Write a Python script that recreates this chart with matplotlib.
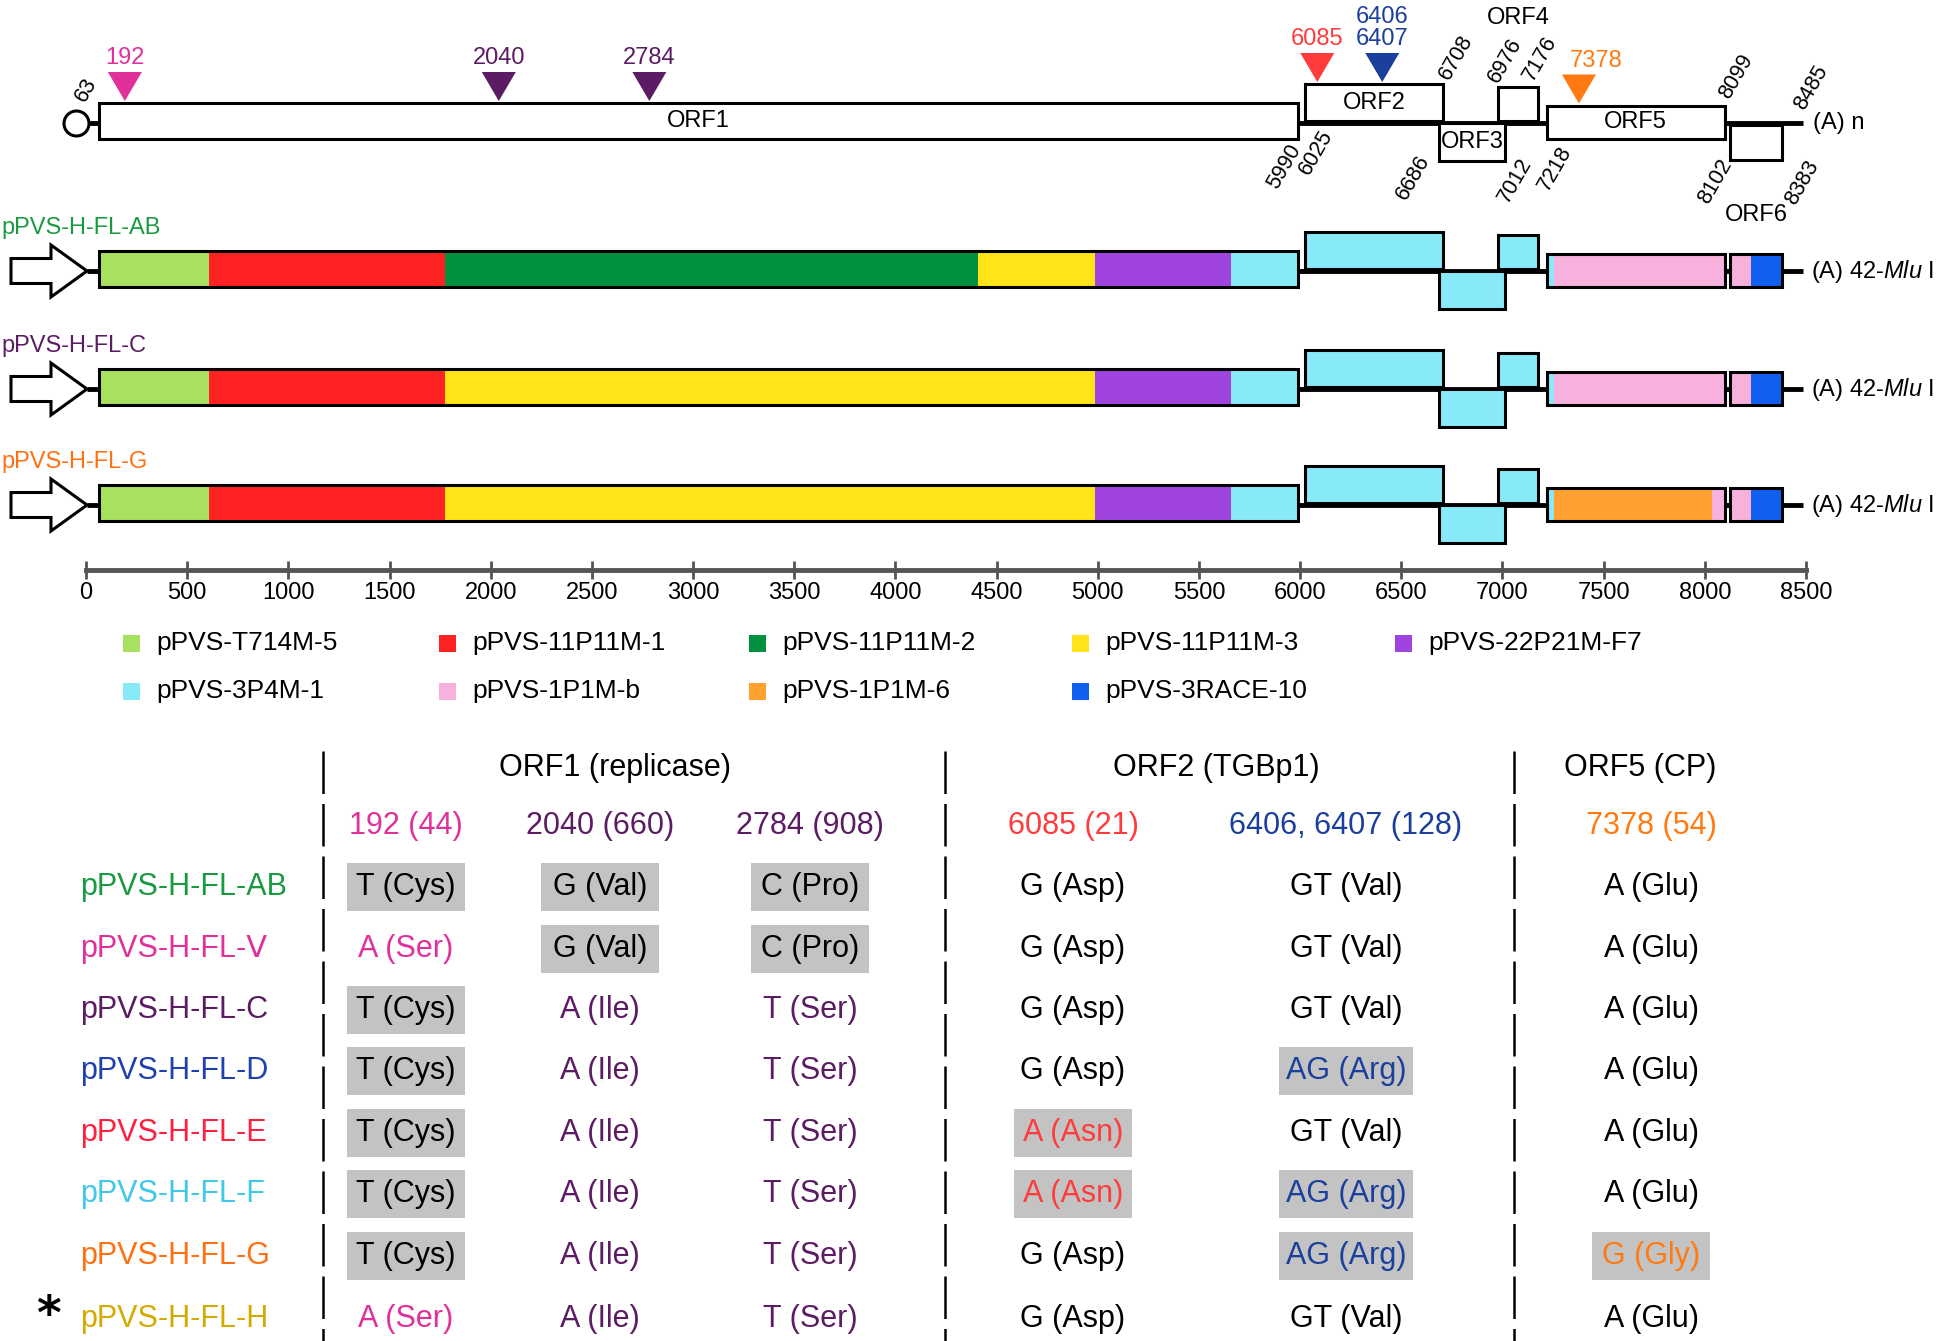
import matplotlib
matplotlib.use("Agg")

import matplotlib.pyplot as plt
from matplotlib.patches import Rectangle, Polygon

plt.rcParams['font.family'] = ['Liberation Sans', 'DejaVu Sans', 'Noto Sans CJK JP']
plt.rcParams['mathtext.fontset'] = 'custom'
plt.rcParams['mathtext.rm'] = 'Liberation Sans'
plt.rcParams['mathtext.it'] = 'Liberation Sans:italic'

# ---------------- genome map data (nt) ----------------
orf_names = ['ORF1', 'ORF2', 'ORF3', 'ORF4', 'ORF5', 'ORF6']
orf_start = [63, 6025, 6686, 6976, 7218, 8102]
orf_end = [5990, 6708, 7012, 7176, 8099, 8383]
genome_end = 8485

site_pos = [192, 2040, 2784, 6085, 6406, 7378]
site_text = ['192', '2040', '2784', '6085', '6406\n6407', '7378']
site_color = ['#e0309a', '#5c1c64', '#5c1c64', '#ff3b3b', '#1a3f9c', '#ff7a12']

nums_above = [63, 6708, 6976, 7176, 8099, 8485]
nums_below = [5990, 6025, 6686, 7012, 7218, 8102, 8383]

clone_names = ['pPVS-T714M-5', 'pPVS-11P11M-1', 'pPVS-11P11M-2', 'pPVS-11P11M-3',
               'pPVS-22P21M-F7', 'pPVS-3P4M-1', 'pPVS-1P1M-b', 'pPVS-1P1M-6',
               'pPVS-3RACE-10']
clone_colors = ['#a8e060', '#ff2222', '#009040', '#ffe41a', '#a044e0',
                '#88eaf8', '#f8b0dc', '#ffa030', '#1060f0']

construct_names = ['pPVS-H-FL-AB', 'pPVS-H-FL-C', 'pPVS-H-FL-G']
construct_colors = ['#1a9a40', '#5c1c64', '#ff7010']
# (start, end, clone index)
construct_pieces = [
    [(63, 610, 0), (610, 1776, 1), (1776, 4410, 2), (4410, 4985, 3), (4985, 5660, 4),
     (5660, 5990, 5), (6025, 6708, 5), (6686, 7012, 5), (6976, 7176, 5),
     (7218, 7253, 5), (7253, 8099, 6), (8102, 8230, 6), (8230, 8383, 8)],
    [(63, 610, 0), (610, 1776, 1), (1776, 4985, 3), (4985, 5660, 4),
     (5660, 5990, 5), (6025, 6708, 5), (6686, 7012, 5), (6976, 7176, 5),
     (7218, 7253, 5), (7253, 8099, 6), (8102, 8230, 6), (8230, 8383, 8)],
    [(63, 610, 0), (610, 1776, 1), (1776, 4985, 3), (4985, 5660, 4),
     (5660, 5990, 5), (6025, 6708, 5), (6686, 7012, 5), (6976, 7176, 5),
     (7218, 7253, 5), (7253, 8035, 7), (8035, 8099, 6), (8102, 8230, 6), (8230, 8383, 8)],
]
scale_ticks = list(range(0, 8501, 500))

# ---------------- table data ----------------
orf_headers = ['ORF1 (replicase)', 'ORF2 (TGBp1)', 'ORF5 (CP)']
site_headers = ['192 (44)', '2040 (660)', '2784 (908)', '6085 (21)', '6406, 6407 (128)', '7378 (54)']
strains = ['pPVS-H-FL-AB', 'pPVS-H-FL-Ⅴ', 'pPVS-H-FL-C', 'pPVS-H-FL-D',
           'pPVS-H-FL-E', 'pPVS-H-FL-F', 'pPVS-H-FL-G', 'pPVS-H-FL-H']
strain_colors = ['#1a9a40', '#e0309a', '#5c1c64', '#2040b0',
                 '#ff2040', '#40c8e8', '#ff7010', '#d4aa00']
cells = [
    ['T (Cys)', 'G (Val)', 'C (Pro)', 'G (Asp)', 'GT (Val)', 'A (Glu)'],
    ['A (Ser)', 'G (Val)', 'C (Pro)', 'G (Asp)', 'GT (Val)', 'A (Glu)'],
    ['T (Cys)', 'A (Ile)', 'T (Ser)', 'G (Asp)', 'GT (Val)', 'A (Glu)'],
    ['T (Cys)', 'A (Ile)', 'T (Ser)', 'G (Asp)', 'AG (Arg)', 'A (Glu)'],
    ['T (Cys)', 'A (Ile)', 'T (Ser)', 'A (Asn)', 'GT (Val)', 'A (Glu)'],
    ['T (Cys)', 'A (Ile)', 'T (Ser)', 'A (Asn)', 'AG (Arg)', 'A (Glu)'],
    ['T (Cys)', 'A (Ile)', 'T (Ser)', 'G (Asp)', 'AG (Arg)', 'G (Gly)'],
    ['A (Ser)', 'A (Ile)', 'T (Ser)', 'G (Asp)', 'GT (Val)', 'A (Glu)'],
]
shaded = [
    [1, 1, 1, 0, 0, 0],
    [0, 1, 1, 0, 0, 0],
    [1, 0, 0, 0, 0, 0],
    [1, 0, 0, 0, 1, 0],
    [1, 0, 0, 1, 0, 0],
    [1, 0, 0, 1, 1, 0],
    [1, 0, 0, 0, 1, 1],
    [0, 0, 0, 0, 0, 0],
]

# ---------------- layout (pixels) ----------------
W, H = 1946, 1341
PX0, PX_PER_BP = 86, 0.20235
MAP_Y = 123
ROW_Y = [271, 389, 505]
SCALE_Y = 570
ORF_BAND = [(-20, 16), (-39, -2), (0, 38), (-36, -2), (-17.5, 16), (2, 37)]
ROW_BAND = [(-20, 16), (-39, -2), (0, 38), (-36, -2), (-17.5, 16), (-17.5, 16)]
ORF_GAP = [0, 0, 0, 0, 0, 5]   # small visual gap before ORF6 box, px
NUM_NUDGE = {63: (-13, -33), 6708: (13, -66), 6976: (7, -62), 7176: (2, -64),
             8099: (11, -46), 8485: (8, -35),
             5990: (-14, 44), 6025: (11, 29), 6686: (-26, 55), 7012: (10, 57),
             7218: (8, 46), 8102: (-10, 59), 8383: (20, 60)}
COL_X = [406, 600, 810, 1073, 1346, 1651]
BOX_W = [118, 118, 118, 118, 134, 118]
TAB_ROW_Y = [887, 949, 1010, 1071, 1133, 1194, 1256, 1319]
DASH_X = [323, 945, 1514]
LEG_X = [123, 439, 749, 1072, 1395]
LEG_Y = [643, 691]


def bp(px):
    return px / PX_PER_BP


def bp_at(px):
    return (px - PX0) / PX_PER_BP


fig = plt.figure(figsize=(W / 100, H / 100), dpi=100)
ax = fig.add_axes([0, 0, 1, 1])
ax.set_xlim(bp_at(0), bp_at(W))
ax.set_ylim(H, 0)
ax.patch.set_visible(False)
for s in ['top', 'left', 'right']:
    ax.spines[s].set_visible(False)
ax.set_yticks([])

# scale bar as the real x axis
ax.spines['bottom'].set_position(('data', SCALE_Y))
ax.spines['bottom'].set_bounds(0, 8500)
ax.spines['bottom'].set_linewidth(3.5)
ax.spines['bottom'].set_color('#555555')
ax.set_xticks(scale_ticks)
ax.tick_params(axis='x', direction='inout', length=13, width=2, colors='#555555',
               labelcolor='black', labelsize=17, pad=2)

# ---- genome map ----
ax.plot([bp_at(76), genome_end], [MAP_Y, MAP_Y], color='k', lw=3.5,
        solid_capstyle='butt', zorder=1)
ax.plot(bp_at(76), MAP_Y, 'o', ms=18, mfc='white', mec='k', mew=2.2, zorder=3)
for i, name in enumerate(orf_names):
    t, b = ORF_BAND[i]
    x0 = orf_start[i] + bp(ORF_GAP[i])
    ax.add_patch(Rectangle((x0, MAP_Y + t), orf_end[i] - x0, b - t,
                           fc='white', ec='k', lw=2.2, zorder=2))
    xc = (x0 + orf_end[i]) / 2
    if name == 'ORF4':
        yc = MAP_Y - 105
    elif name == 'ORF6':
        yc = MAP_Y + 92
    else:
        yc = MAP_Y + (t + b) / 2
    ax.text(xc, yc, name, ha='center', va='center', fontsize=17, zorder=4)

for p, txt, c in zip(site_pos, site_text, site_color):
    k = [j for j in range(6) if orf_start[j] <= p <= orf_end[j]][0]
    tip = MAP_Y + ORF_BAND[k][0] - 2
    top = tip - 29
    half = bp(17)
    ax.add_patch(Polygon([(p - half, top), (p + half, top), (p, tip)], closed=True,
                         fc=c, ec='none', zorder=3))
    dx = bp(17) if p == 7378 else 0
    ax.text(p + dx, top - 3, txt, ha='center', va='bottom', color=c, fontsize=17,
            linespacing=1.0)

for n in nums_above + nums_below:
    dx, dy = NUM_NUDGE[n]
    ax.text(n + bp(dx), MAP_Y + dy, str(n), rotation=60, rotation_mode='anchor',
            ha='center', va='center', fontsize=15.5)

ax.text(genome_end + bp(10), MAP_Y, '(A) n', ha='left', va='center', fontsize=17)

# ---- constructs ----
for r, y0 in enumerate(ROW_Y):
    ax.text(bp_at(1), y0 - 43, construct_names[r], ha='left', va='center',
            color=construct_colors[r], fontsize=17)
    ax.add_patch(Polygon([(bp_at(11), y0 - 12.5), (bp_at(51), y0 - 12.5), (bp_at(51), y0 - 26),
                          (bp_at(87), y0), (bp_at(51), y0 + 26), (bp_at(51), y0 + 12.5),
                          (bp_at(11), y0 + 12.5)], closed=True, fc='white', ec='k',
                         lw=2.2, zorder=2))
    ax.plot([bp_at(87), genome_end], [y0, y0], color='k', lw=3.5,
            solid_capstyle='butt', zorder=1)
    for s, e, ci in construct_pieces[r]:
        k = [j for j in range(6) if orf_start[j] <= s and e <= orf_end[j]][0]
        t, b = ROW_BAND[k]
        s = max(s, orf_start[k] + bp(ORF_GAP[k]))
        ax.add_patch(Rectangle((s, y0 + t), e - s, b - t, fc=clone_colors[ci],
                               ec='none', zorder=2))
    for i in range(6):
        t, b = ROW_BAND[i]
        x0 = orf_start[i] + bp(ORF_GAP[i])
        ax.add_patch(Rectangle((x0, y0 + t), orf_end[i] - x0, b - t,
                               fill=False, ec='k', lw=2.2, zorder=3))
    ax.text(genome_end + bp(8), y0, r'(A) 42-$\mathit{Mlu}$ I', ha='left', va='center',
            fontsize=17)

# ---- legend and table ----
tab = fig.add_axes([0, 0, 1, 1])
tab.set_xlim(0, W)
tab.set_ylim(H, 0)
tab.axis('off')
tab.patch.set_visible(False)

for i, (name, c) in enumerate(zip(clone_names, clone_colors)):
    x = LEG_X[i % 5]
    y = LEG_Y[i // 5]
    tab.add_patch(Rectangle((x, y - 8.5), 17, 17, fc=c, ec='none'))
    tab.text(x + 33, y, name, ha='left', va='center', fontsize=19)

for x in DASH_X:
    tab.plot([x, x], [751, H], color='k', lw=1.8, linestyle=(0, (17, 4)))

for txt, xc in zip(orf_headers, [615, 1216, 1640]):
    tab.text(xc, 768, txt, ha='center', va='center', fontsize=22)
for j, txt in enumerate(site_headers):
    tab.text(COL_X[j], 826, txt, ha='center', va='center', color=site_color[j], fontsize=22)

for i, name in enumerate(strains):
    y = TAB_ROW_Y[i]
    tab.text(80, y, name, ha='left', va='center', color=strain_colors[i], fontsize=22)
    for j in range(6):
        if shaded[i][j]:
            tab.add_patch(Rectangle((COL_X[j] - BOX_W[j] / 2, y - 24), BOX_W[j], 48,
                                    fc='#c3c3c3', ec='none'))
        colored = bool(shaded[i][j]) != (j < 3)
        tab.text(COL_X[j], y, cells[i][j], ha='center', va='center', fontsize=22,
                 color=site_color[j] if colored else 'black')
tab.text(48, TAB_ROW_Y[-1] - 2, '*', ha='center', va='center', fontsize=34,
         fontweight='bold', family='DejaVu Sans')

fig.savefig('out.png', dpi=100)
